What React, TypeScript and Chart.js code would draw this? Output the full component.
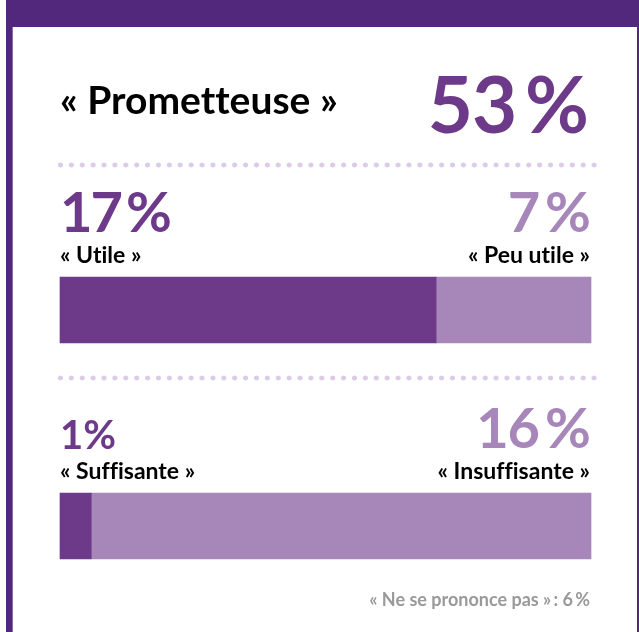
import React, { useEffect, useRef } from "react";
import { Chart, registerables } from "chart.js";

Chart.register(...registerables);

// ---- data ----
const categories = ["Utilité", "Moyens"];
const positiveLabels = ["« Utile »", "« Suffisante »"];
const negativeLabels = ["« Peu utile »", "« Insuffisante »"];
const positiveValues = [17, 1];
const negativeValues = [7, 16];
const headlineLabel = "« Prometteuse »";
const headlineValue = 53;
const noOpinionLabel = "« Ne se prononce pas »";
const noOpinionValue = 6;

// ---- styles ----
const DARK = "#6d3989";
const LIGHT = "#a787b9";
const BAND = "#52287d";
const DOT = "#dccbe7";
const FONT = "Lato, 'Noto Sans', sans-serif";

const fmt = (v: number) => (v === 1 ? `${v}%` : `${v}\u2009%`);

function Txt(props: {
  text: string;
  size: number;
  baseline: number;
  color: string;
  left?: number;
  right?: number;
  weight?: number;
  spacing?: number;
}) {
  const { text, size, baseline, color, left, right, weight = 700, spacing = 0 } = props;
  const style: React.CSSProperties = {
    position: "absolute",
    top: baseline - 0.887 * size,
    fontFamily: FONT,
    fontSize: size,
    lineHeight: 1,
    fontWeight: weight,
    color,
    whiteSpace: "nowrap",
    letterSpacing: spacing,
    fontVariantLigatures: "none",
  };
  if (left !== undefined) style.left = left;
  if (right !== undefined) style.right = right;
  return <div style={style}>{text}</div>;
}

function Dots({ top }: { top: number }) {
  return (
    <div
      style={{
        position: "absolute",
        left: 55,
        width: 542,
        top: top - 3,
        height: 6,
        backgroundImage: `radial-gradient(circle, ${DOT} 2.2px, rgba(255,255,255,0) 2.8px)`,
        backgroundSize: "10.9px 6px",
        backgroundRepeat: "repeat-x",
      }}
    />
  );
}

export default function App() {
  const ref = useRef<HTMLCanvasElement | null>(null);

  useEffect(() => {
    if (!ref.current) return;
    const totals = positiveValues.map((v, i) => v + negativeValues[i]);
    const chart = new Chart(ref.current, {
      type: "bar",
      data: {
        labels: categories,
        datasets: [
          {
            label: "positive",
            data: positiveValues.map((v, i) => (v / totals[i]) * 100),
            backgroundColor: DARK,
            borderWidth: 0,
            barThickness: 66,
            clip: false as any,
          },
          {
            label: "negative",
            data: negativeValues.map((v, i) => (v / totals[i]) * 100),
            backgroundColor: LIGHT,
            borderWidth: 0,
            barThickness: 66,
            clip: false as any,
          },
        ],
      },
      options: {
        indexAxis: "y",
        responsive: false,
        animation: false,
        devicePixelRatio: 1,
        layout: { padding: { left: 60, right: 48, top: 310, bottom: 106 } },
        scales: {
          x: { stacked: true, min: 0, max: 100, display: false },
          y: { stacked: true, offset: false, display: false },
        },
        plugins: { legend: { display: false }, tooltip: { enabled: false } },
      },
    });
    return () => chart.destroy();
  }, []);

  return (
    <div
      style={{
        position: "absolute",
        left: 0,
        top: 0,
        width: 639,
        height: 632,
        overflow: "hidden",
        background: "#ffffff",
      }}
    >
      {/* frame */}
      <div style={{ position: "absolute", left: 6, top: 0, width: 633, height: 27, background: BAND }} />
      <div style={{ position: "absolute", left: 6, top: 0, width: 6, height: 632, background: BAND }} />
      <div style={{ position: "absolute", left: 12, top: 27, width: 1, height: 605, background: "#8a6aa8" }} />
      <div style={{ position: "absolute", left: 637, top: 0, width: 2, height: 632, background: BAND }} />

      <canvas
        ref={ref}
        width={639}
        height={632}
        style={{ position: "absolute", left: 0, top: 0, width: 639, height: 632 }}
      />

      <Txt text={headlineLabel} size={39} baseline={115} color="#000" left={60} />
      <Txt text={fmt(headlineValue)} size={78} baseline={133} color={DARK} right={51} spacing={-1} />

      <Dots top={165} />

      <Txt text={fmt(positiveValues[0])} size={56} baseline={233} color={DARK} left={60} spacing={-2} />
      <Txt text={fmt(negativeValues[0])} size={56} baseline={233} color={LIGHT} right={49} spacing={-1} />
      <Txt text={positiveLabels[0]} size={23} baseline={263} color="#000" left={60} />
      <Txt text={negativeLabels[0]} size={23} baseline={263} color="#000" right={49} />

      <Dots top={378} />

      <Txt text={fmt(positiveValues[1])} size={40} baseline={449} color={DARK} left={60} />
      <Txt text={fmt(negativeValues[1])} size={56} baseline={449} color={LIGHT} right={49} spacing={-1} />
      <Txt text={positiveLabels[1]} size={23} baseline={479} color="#000" left={60} />
      <Txt text={negativeLabels[1]} size={23} baseline={479} color="#000" right={49} />

      <Txt
        text={`${noOpinionLabel}\u2009: ${noOpinionValue}\u2009%`}
        size={18}
        baseline={606}
        color="#999999"
        right={49}
      />
    </div>
  );
}
